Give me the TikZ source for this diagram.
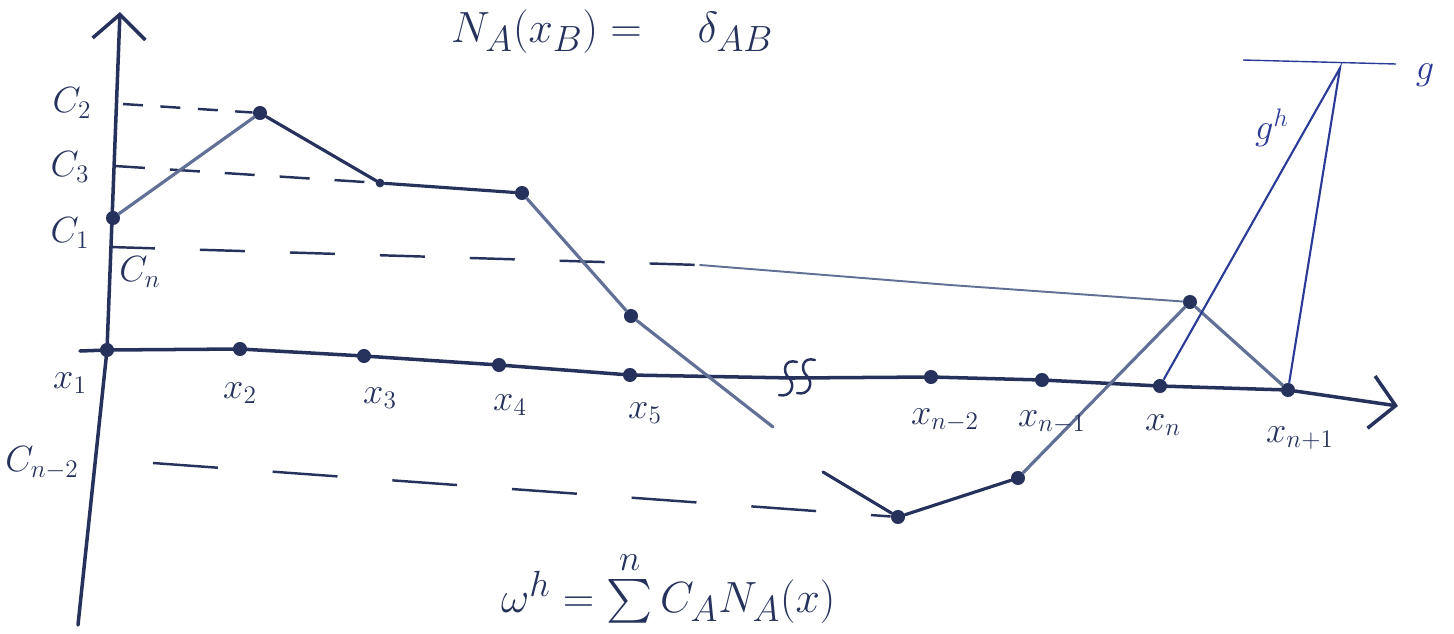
\documentclass[tikz,border=0pt]{standalone}
\usepackage{exscale}
\usepackage{tikz}
\usetikzlibrary{arrows.meta}
\definecolor{ink}{RGB}{38,50,92}
\definecolor{faint}{RGB}{98,112,150}
\definecolor{pen}{RGB}{42,58,150}

\begin{document}
\begin{tikzpicture}
        [x=0.02cm, y=-0.02cm,
         dot/.style={circle, fill=ink, inner sep=0pt, minimum size=8pt},
         small dot/.style={dot, minimum size=5pt},
         lbl/.style={text=ink, font=\huge},
         axis/.style={draw=ink, line width=2pt, line cap=round},
         seg/.style={draw=faint, line width=1.8pt, line cap=round},
         level/.style={draw=ink, line width=1.4pt, dash pattern=on 0.9cm off 0.9cm},
         gline/.style={draw=pen, line width=1.2pt}]
        \useasboundingbox (0,0) rectangle (1454,633);

        % nodes on the x axis
        \node [dot] (x1) at (107,350) {};
        \node [dot] (x2) at (240,349) {};
        \node [dot] (x3) at (364,356) {};
        \node [dot] (x4) at (499,365) {};
        \node [dot] (x5) at (630,375) {};
        \coordinate (brk) at (793,378);
        \node [dot] (xn2) at (931,377) {};
        \node [dot] (xn1m) at (1042,380) {};
        \node [dot] (xn) at (1160,386) {};
        \node [dot] (xn1) at (1288,390) {};

        % values
        \node [dot] (c1) at (113,218) {};
        \node [dot] (c2) at (260,113) {};
        \node [small dot] (c3) at (380,183) {};
        \node [dot] (c4) at (522,193) {};
        \node [dot] (c5) at (631,316) {};
        \node [dot] (cn2) at (898,517) {};
        \node [dot] (cn1) at (1018,478) {};
        \node [dot] (cn) at (1190,302) {};

        % axes
        \coordinate (ybot) at (78,625);
        \coordinate (ytop) at (120,12);
        \coordinate (xstart) at (80,351);
        \coordinate (xend) at (1398,406);
        \draw [axis, -{Straight Barb[length=14pt,width=30pt]}] (ybot) -- (x1.center) -- (ytop);
        \draw [axis, -{Straight Barb[length=14pt,width=30pt]}] (xstart) -- (x1.center) -- (x2.center)
            -- (x3.center) -- (x4.center) -- (x5.center) -- (brk) -- (xn2.center)
            -- (xn1m.center) -- (xn.center) -- (xn1.center) -- (xend);
        \draw [axis, line width=1.4pt] (797,362) .. controls (784,358) and (782,372) .. (789,378)
            .. controls (796,385) and (791,398) .. (779,395);
        \draw [axis, line width=1.4pt] (815,360) .. controls (802,356) and (800,370) .. (807,376)
            .. controls (814,383) and (809,396) .. (797,393);

        % dashed levels
        \coordinate (l2) at (123,104);
        \coordinate (l3) at (115,166);
        \coordinate (ln) at (110,247);
        \coordinate (lnmid) at (700,265);
        \coordinate (lnbend) at (950,285);
        \coordinate (ln2) at (153,463);
        \draw [level, dash pattern=on 0.4cm off 0.35cm] (l2) -- (c2);
        \draw [level, dash pattern=on 0.6cm off 0.5cm] (l3) -- (c3);
        \draw [level] (ln) -- (lnmid);
        \draw [seg, line width=1.1pt] (lnmid) -- (lnbend) -- (cn);
        \draw [level, dash pattern=on 1.3cm off 1.1cm] (ln2) -- (cn2);

        % interpolant
        \coordinate (gap1) at (773,427);
        \coordinate (gap2) at (823,472);
        \draw [seg] (c1) -- (c2);
        \draw [seg, draw=ink] (c2) -- (c3);
        \draw [seg, draw=ink] (c3) -- (c4);
        \draw [seg] (c4) -- (c5);
        \draw [seg] (c5) -- (gap1);
        \draw [seg, draw=ink] (gap2) -- (cn2);
        \draw [seg, draw=ink] (cn2) -- (cn1);
        \draw [seg] (cn1) -- (cn);
        \draw [seg] (cn) -- (xn1);

        % g and g^h
        \coordinate (gtop) at (1340,68);
        \coordinate (gl) at (1243,60);
        \coordinate (gr) at (1396,64);
        \draw [gline] (xn) -- (gtop) -- (xn1);
        \draw [gline, line width=0.8pt] (gl) -- (gr);

        % labels
        \node [lbl] (lx1) at (70,383) {$x_1$};
        \node [lbl] (lx2) at (240,393) {$x_2$};
        \node [lbl] (lx3) at (380,398) {$x_3$};
        \node [lbl] (lx4) at (510,405) {$x_4$};
        \node [lbl] (lx5) at (645,413) {$x_5$};
        \node [lbl] (lxn2) at (945,420) {$x_{n-2}$};
        \node [lbl] (lxn1m) at (1052,422) {$x_{n-1}$};
        \node [lbl] (lxn) at (1163,425) {$x_n$};
        \node [lbl] (lxn1) at (1300,438) {$x_{n+1}$};
        \node [lbl] (lc2) at (72,103) {$C_2$};
        \node [lbl] (lc3) at (70,167) {$C_3$};
        \node [lbl] (lc1) at (70,233) {$C_1$};
        \node [lbl] (lcn) at (140,272) {$C_n$};
        \node [lbl] (lcn2) at (42,463) {$C_{n-2}$};
        \node [lbl, text=pen] (lgh) at (1272,128) {$g^h$};
        \node [lbl, text=pen] (lg) at (1425,75) {$g$};

        % formulas
        \node [lbl, font=\Huge, anchor=base west] (shape) at (445,42) {$N_A(x_B) = \quad \delta_{AB}$};
        \node [lbl, font=\Huge, anchor=base west] (interp) at (495,612)
            {$\omega^h = \sum\limits^{n} C_A N_A(x)$};
\end{tikzpicture}
\end{document}
